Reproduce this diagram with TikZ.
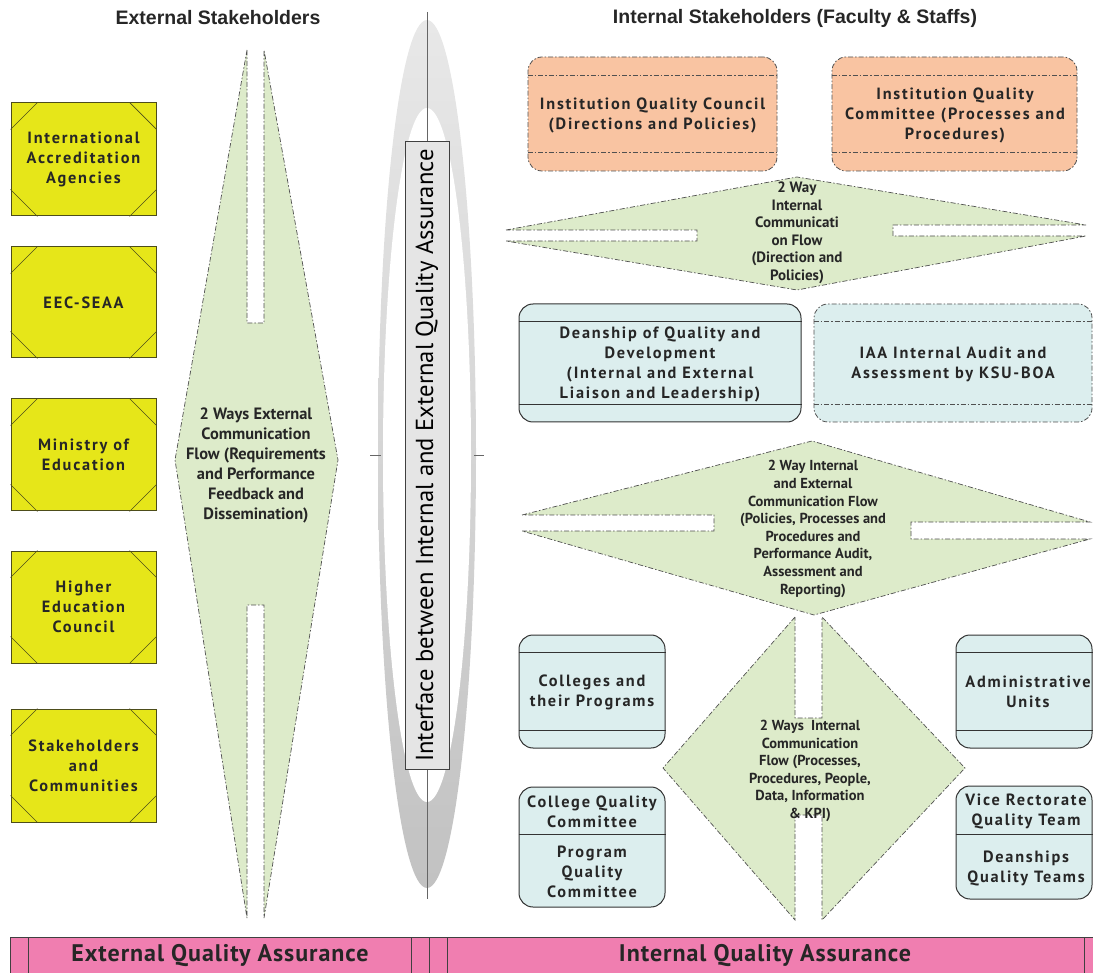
\documentclass[tikz,border=0pt]{standalone}
\usepackage{fontspec}
\setmainfont{Liberation Sans}
\newfontfamily\boxfont{PT Sans}[LetterSpace=11]
\newfontfamily\flowfont{PT Sans}
\newfontfamily\barfont{PT Sans}[LetterSpace=4]
\usetikzlibrary{calc}
\definecolor{ylw}{HTML}{E6E619}
\definecolor{ybord}{HTML}{4D4D1A}
\definecolor{flowgreen}{HTML}{DDEBCA}
\definecolor{peach}{HTML}{F9C4A2}
\definecolor{paleblue}{HTML}{DCEEEE}
\definecolor{barpink}{HTML}{F07EB0}
\definecolor{edgegray}{HTML}{505050}
\tikzset{
  boxtext/.style={font=\boxfont\bfseries\fontsize{16.3}{20}\selectfont, align=center, text=black!85},
  ybox/.style={boxtext, draw=ybord, fill=ylw, line width=1pt, minimum width=145, minimum height=112, inner sep=0pt},
  dashdot/.style={dash pattern=on 5pt off 2pt on 1.5pt off 2pt},
  pbox/.style={draw=edgegray, fill=peach, line width=0.8pt, dashdot, rounded corners=14pt, inner sep=0pt},
  bbox/.style={draw=black!80, fill=paleblue, line width=1pt, rounded corners=14pt, inner sep=0pt},
  bboxdd/.style={draw=edgegray, fill=paleblue, line width=0.8pt, dashdot, rounded corners=14pt, inner sep=0pt},
  flow/.style={fill=flowgreen, draw=edgegray, line width=0.7pt, dashdot},
  flowtext/.style={font=\flowfont\bfseries\fontsize{15}{17.5}\selectfont, align=center, text=black!85},
  title/.style={font=\bfseries\fontsize{19.5}{22}\selectfont, text=black!85},
  bartext/.style={font=\barfont\bfseries\fontsize{24}{26}\selectfont, text=black!85},
}
\begin{document}
\begin{tikzpicture}[x=1pt,y=-1pt]
\useasboundingbox (0,0) rectangle (1093,973);
\clip (0,0) rectangle (1093,973);

% headings
\node[title] (exttitle) at (218,18) {External Stakeholders};
\node[title] (inttitle) at (795,18) {Internal Stakeholders (Faculty \& Staffs)};

% external stakeholder boxes
\node[ybox, minimum height=113] (ext1) at (83.5,159.5) {International\\Accreditation\\Agencies};
\node[ybox, minimum height=111] (ext2) at (83.5,302.5) {EEC-SEAA};
\node[ybox] (ext3) at (83.5,455) {Ministry of\\Education};
\node[ybox] (ext4) at (83.5,607) {Higher\\Education\\Council};
\node[ybox, minimum height=113] (ext5) at (83.5,765.5) {Stakeholders\\and\\Communities};
\foreach \n in {ext1,ext2,ext3,ext4,ext5} {
  \draw[ybord, line width=0.7pt]
    ($(\n.north west)+(27,0)$) -- ($(\n.north west)+(0,27)$)
    ($(\n.north east)+(-27,0)$) -- ($(\n.north east)+(0,27)$)
    ($(\n.south west)+(27,0)$) -- ($(\n.south west)+(0,-27)$)
    ($(\n.south east)+(-27,0)$) -- ($(\n.south east)+(0,-27)$);
}

% external two-way flow
\path[flow] (247,50) -- (175,460) -- (247,918) -- (247,605) -- (264,605) -- (264,918)
  -- (338,460) -- (264,50) -- (264,323) -- (247,323) -- cycle;
\node[flowtext, font=\flowfont\bfseries\fontsize{16.4}{20}\selectfont] (extflow) at (256,465)
  {2 Ways External\\Communication\\Flow (Requirements\\and Performance\\Feedback and\\Dissemination)};

% interface between internal and external assurance
\shade[top color=black!9, bottom color=black!24] (427,454) ellipse [x radius=49, y radius=434];
\fill[white] (427,455) ellipse [x radius=44, y radius=347];
\draw[black!60, line width=0.8pt] (427,12) -- (427,899);
\draw[black!60, line width=0.8pt] (370,455) -- (381,455) (474,455) -- (484,455);
\node[draw=black!75, fill=black!10, line width=1pt, rotate=90, minimum width=627, minimum height=44,
  inner sep=0pt, font=\flowfont\fontsize{24.6}{26}\selectfont] (iface) at (427,455.5)
  {Interface between Internal and External Quality Assurance};

% councils
\node[pbox, minimum width=249, minimum height=114] (iqc) at (652.5,114) {};
\node[pbox, minimum width=245, minimum height=114] (iqcom) at (954.5,114) {};
\foreach \n in {iqc,iqcom} {
  \draw[edgegray, line width=0.8pt, dashdot]
    ($(\n.north west)+(0,19)$) -- ($(\n.north east)+(0,19)$)
    ($(\n.south west)+(0,-19)$) -- ($(\n.south east)+(0,-19)$);
}
\node[boxtext] (iqctext) at (652.5,115) {Institution Quality Council\\(Directions and Policies)};
\node[boxtext] (iqcomtext) at (955,115) {Institution Quality\\Committee (Processes and\\Procedures)};

% internal flow between councils and deanships
\path[flow] (506,230) -- (797,177) -- (1086,225) -- (893,225) -- (893,236) -- (1086,236)
  -- (797,290) -- (506,241) -- (697,241) -- (697,230) -- cycle;
\node[flowtext, font=\flowfont\bfseries\fontsize{15}{17.5}\selectfont] (flow1) at (797,233)
  {2 Way\\Internal\\Communicati\\on Flow\\(Direction and\\Policies)};

% deanship and audit
\node[bbox, minimum width=282, minimum height=118] (dean) at (660,363) {};
\node[bboxdd, minimum width=278, minimum height=118] (iaa) at (953,363) {};
\draw[black!80, line width=1pt]
  ($(dean.north west)+(0,18)$) -- ($(dean.north east)+(0,18)$)
  ($(dean.south west)+(0,-18)$) -- ($(dean.south east)+(0,-18)$);
\draw[edgegray, line width=0.8pt, dashdot]
  ($(iaa.north west)+(0,18)$) -- ($(iaa.north east)+(0,18)$)
  ($(iaa.south west)+(0,-18)$) -- ($(iaa.south east)+(0,-18)$);
\node[boxtext] (deantext) at (660,364) {Deanship of Quality and\\Development\\(Internal and External\\Liaison and Leadership)};
\node[boxtext] (iaatext) at (953,364) {IAA Internal Audit and\\Assessment by KSU-BOA};

% internal and external flow
\path[flow] (522,515) -- (812,441) -- (1090,522) -- (911,522) -- (911,539) -- (1090,539)
  -- (814,615) -- (522,531) -- (714,531) -- (714,515) -- cycle;
\node[flowtext, font=\flowfont\bfseries\fontsize{14.5}{17.6}\selectfont] (flow2) at (813,529)
  {2 Way Internal\\and External\\Communication Flow\\(Policies, Processes and\\Procedures and\\Performance Audit,\\Assessment and\\Reporting)};

% internal flow among units
\path[flow] (795,617) -- (663,768) -- (795,920) -- (795,815) -- (822,815) -- (822,920)
  -- (965,768) -- (822,617) -- (822,718) -- (795,718) -- cycle;
\node[flowtext, font=\flowfont\bfseries\fontsize{14.5}{17.5}\selectfont] (flow3) at (810,771)
  {2 Ways\ \ Internal\\Communication\\Flow (Processes,\\Procedures, People,\\Data, Information\\\& KPI)};

% colleges and units
\node[bbox, minimum width=146, minimum height=113] (coll) at (592,691.5) {};
\node[bbox, minimum width=146, minimum height=120] (cqc) at (592,847) {};
\node[bbox, minimum width=136, minimum height=113] (admin) at (1024,691.5) {};
\node[bbox, minimum width=136, minimum height=113] (vrq) at (1024,842.5) {};
\foreach \n in {coll,admin} {
  \draw[black!80, line width=1pt]
    ($(\n.north west)+(0,18)$) -- ($(\n.north east)+(0,18)$)
    ($(\n.south west)+(0,-18)$) -- ($(\n.south east)+(0,-18)$);
}
\draw[black!80, line width=1pt] ($(cqc.north west)+(0,48)$) -- ($(cqc.north east)+(0,48)$);
\draw[black!80, line width=1pt] ($(vrq.north west)+(0,49)$) -- ($(vrq.north east)+(0,49)$);
\node[boxtext] (colltext) at (592,692) {Colleges and\\their Programs};
\node[boxtext] (cqctext) at (592,812) {College Quality\\Committee};
\node[boxtext] (pqctext) at (592,872) {Program\\Quality\\Committee};
\node[boxtext] (admintext) at (1028,692) {Administrative\\Units};
\node[boxtext] (vrqtext) at (1026,811) {Vice Rectorate\\Quality Team};
\node[boxtext] (dqttext) at (1026,868) {Deanships\\Quality Teams};

% assurance bar
\fill[barpink] (10,937) rectangle (1100,980);
\draw[black!75, line width=0.8pt] (10,980) -- (10,937) -- (1100,937);
\draw[black!75, line width=0.8pt] (28,937) -- (28,980) (411,937) -- (411,980) (429,937) -- (429,980)
  (447,937) -- (447,980) (1084,937) -- (1084,980);
\node[bartext] (eqa) at (220,956) {External Quality Assurance};
\node[bartext] (iqa) at (765,956) {Internal Quality Assurance};
\end{tikzpicture}
\end{document}
